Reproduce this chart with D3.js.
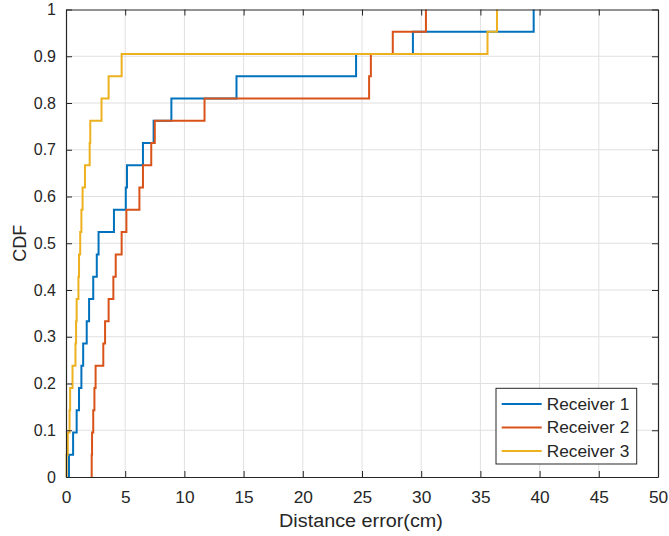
<!DOCTYPE html>
<html lang="en">
    <head>
        <meta charset="UTF-8">
        <script src="https://d3js.org/d3.v7.min.js"></script>
        <title>CDF</title>
        <style>
            body { margin: 0; background: #fff; }
        </style>
    </head>
    <body>
        <div id="container"></div>
    </body>
    <script>
        // sorted distance errors (cm), 21 samples per receiver
        const receiver1 = [0.25, 0.6, 0.9, 1.1, 1.3, 1.45, 1.75, 1.95, 2.3, 2.6, 2.75,
                           4.05, 5.05, 5.15, 6.5, 7.4, 8.9, 14.4, 24.5, 29.3, 39.5];
        const receiver2 = [2.17, 2.2, 2.3, 2.4, 2.5, 3.15, 3.3, 3.6, 4.0, 4.2, 4.7,
                           5.1, 6.2, 6.5, 7.2, 7.5, 11.7, 25.6, 25.75, 27.6, 30.4];
        const receiver3 = [0.05, 0.15, 0.3, 0.35, 0.55, 0.8, 0.85, 0.9, 1.05, 1.1, 1.2,
                           1.3, 1.4, 1.6, 2.0, 2.05, 3.0, 3.6, 4.7, 35.6, 36.4];
        const seriesNames = ['Receiver 1', 'Receiver 2', 'Receiver 3'];
        const xTicks = [0, 5, 10, 15, 20, 25, 30, 35, 40, 45, 50];
        const yTicks = [0, 0.1, 0.2, 0.3, 0.4, 0.5, 0.6, 0.7, 0.8, 0.9, 1];

        const colors = ['#0072BD', '#D95319', '#EDB120'];
        const width = 669;
        const height = 536;
        const margin = {top: 9.5, right: 11, bottom: 59, left: 66};
        const textColor = '#262626';
        const font = 'Arial, "Liberation Sans", sans-serif';

        const x = d3.scaleLinear().domain([0, 50]).range([margin.left, width - margin.right]);
        const y = d3.scaleLinear().domain([0, 1]).range([height - margin.bottom, margin.top]);

        const svg = d3.select('#container')
            .append('svg')
            .attr('width', width)
            .attr('height', height)
            .style('font-family', font);

        // widen text a little, the reference glyphs look stretched
        function stretch(sel, k) {
            sel.each(function() {
                const w = this.getComputedTextLength();
                d3.select(this).attr('textLength', w * k).attr('lengthAdjust', 'spacingAndGlyphs');
            });
        }

        // grid
        svg.append('g')
            .selectAll('line')
            .data(xTicks.slice(1, -1))
            .join('line')
            .attr('x1', d => x(d)).attr('x2', d => x(d))
            .attr('y1', y(0)).attr('y2', y(1))
            .attr('stroke', '#e0e0e0').attr('stroke-width', 1);
        svg.append('g')
            .selectAll('line')
            .data(yTicks.slice(1, -1))
            .join('line')
            .attr('x1', x(0)).attr('x2', x(50))
            .attr('y1', d => y(d)).attr('y2', d => y(d))
            .attr('stroke', '#e0e0e0').attr('stroke-width', 1);

        // step curves
        function cdfPoints(vals) {
            const n = vals.length;
            const pts = [[vals[0], 0]];
            vals.forEach((v, i) => {
                pts.push([v, i / n]);
                pts.push([v, (i + 1) / n]);
                if (i < n - 1) pts.push([vals[i + 1], (i + 1) / n]);
            });
            return pts;
        }
        const line = d3.line().x(d => x(d[0])).y(d => y(d[1]));
        [receiver1, receiver2, receiver3].forEach((vals, i) => {
            svg.append('path')
                .datum(cdfPoints(vals))
                .attr('d', line)
                .attr('fill', 'none')
                .attr('stroke', colors[i])
                .attr('stroke-width', 2);
        });

        // axes (ticks inside, box on)
        const tl = 6;
        const xAxis = svg.append('g')
            .attr('transform', `translate(0,${y(0)})`)
            .call(d3.axisBottom(x).tickValues(xTicks).tickSizeInner(-tl).tickSizeOuter(0).tickPadding(15));
        const xAxisTop = svg.append('g')
            .attr('transform', `translate(0,${y(1)})`)
            .call(d3.axisTop(x).tickValues(xTicks).tickSizeInner(-tl).tickSizeOuter(0).tickFormat(''));
        const yAxis = svg.append('g')
            .attr('transform', `translate(${x(0)},0)`)
            .call(d3.axisLeft(y).tickValues(yTicks).tickSizeInner(-tl).tickSizeOuter(0).tickPadding(10)
                .tickFormat(d => d3.format('')(d)));
        const yAxisRight = svg.append('g')
            .attr('transform', `translate(${x(50)},0)`)
            .call(d3.axisRight(y).tickValues(yTicks).tickSizeInner(-tl).tickSizeOuter(0).tickFormat(''));

        [xAxis, xAxisTop, yAxis, yAxisRight].forEach(g => {
            g.select('.domain').attr('stroke', textColor).attr('stroke-width', 1.2);
            g.selectAll('.tick line').attr('stroke', textColor);
            g.selectAll('.tick text')
                .attr('fill', textColor)
                .style('font-size', '16px')
                .style('font-family', font);
        });
        stretch(xAxis.selectAll('.tick text'), 1.08);

        // axis labels
        svg.append('text')
            .attr('x', (x(0) + x(50)) / 2 - 1)
            .attr('y', 527)
            .attr('text-anchor', 'middle')
            .attr('fill', textColor)
            .style('font-size', '18px')
            .text('Distance error(cm)')
            .call(stretch, 1.1);
        svg.append('text')
            .attr('transform', `translate(26,${(y(0) + y(1)) / 2}) rotate(-90)`)
            .attr('text-anchor', 'middle')
            .attr('fill', textColor)
            .style('font-size', '18px')
            .text('CDF');

        // legend
        const legend = svg.append('g').attr('transform', 'translate(496,388.3)');
        legend.append('rect')
            .attr('width', 140.7).attr('height', 75.7)
            .attr('fill', '#fff').attr('stroke', textColor).attr('stroke-width', 1);
        seriesNames.forEach((name, i) => {
            const row = legend.append('g').attr('transform', `translate(0,${15.7 + i * 23.5})`);
            row.append('line')
                .attr('x1', 5.7).attr('x2', 45.7)
                .attr('stroke', colors[i]).attr('stroke-width', 2);
            row.append('text')
                .attr('x', 50.7).attr('dy', '0.36em')
                .attr('fill', textColor)
                .style('font-size', '16px')
                .text(name)
                .call(stretch, 1.08);
        });
    </script>
</html>
